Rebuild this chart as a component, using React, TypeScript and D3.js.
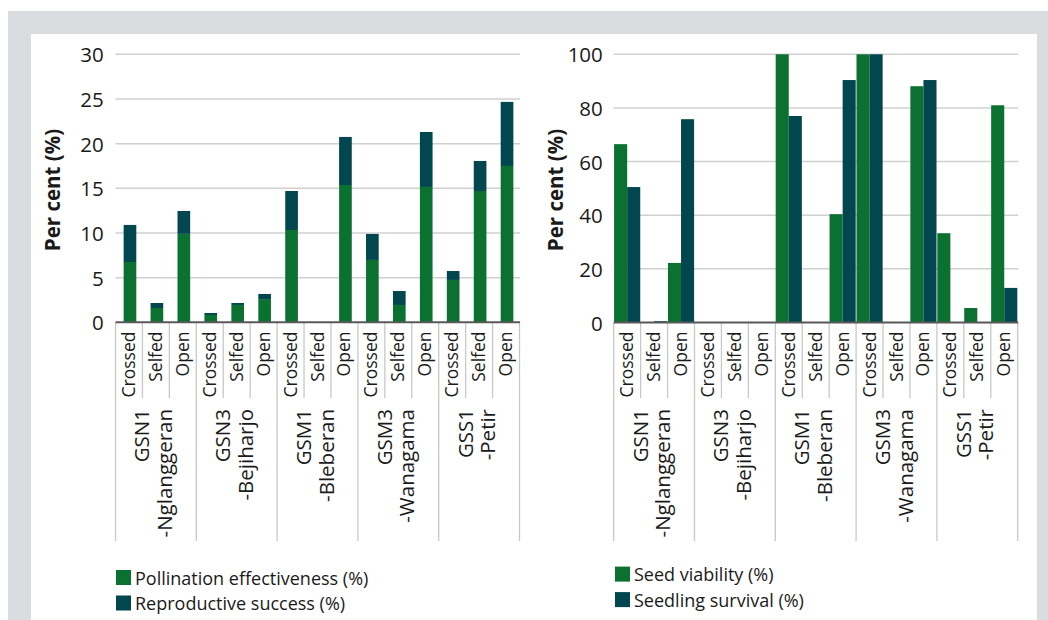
import React, { useEffect, useRef } from 'react';
import * as d3 from 'd3';

// categories
const groupCodes = ['GSN1', 'GSN3', 'GSM1', 'GSM3', 'GSS1'];
const groupSites = ['-Nglanggeran', '-Bejiharjo', '-Bleberan', '-Wanagama', '-Petir'];
const treatments = ['Crossed', 'Selfed', 'Open'];

// left chart (stacked)
const pollination = [6.75, 1.6, 9.9, 0.82, 1.94, 2.6, 10.33, 0, 15.37, 6.98, 1.94, 15.15, 4.74, 14.7, 17.5];
const reproductive = [4.15, 0.56, 2.56, 0.22, 0.22, 0.57, 4.37, 0, 5.38, 2.91, 1.56, 6.15, 1.0, 3.36, 7.17];
const leftTicks = [0, 5, 10, 15, 20, 25, 30];

// right chart (clustered)
const seedViability = [66.5, 0, 22.2, 0, 0, 0, 100, 0, 40.4, 100, 0, 88.1, 33.3, 5.4, 81];
const seedlingSurvival = [50.5, 0.5, 75.8, 0, 0, 0, 77, 0, 90.4, 100, 0, 90.4, 0, 0, 12.9];
const rightTicks = [0, 20, 40, 60, 80, 100];

const GREEN = '#0b7131';
const DARK = '#02464f';
const FONT = '"Open Sans", "Noto Sans", sans-serif';

const keys = groupCodes.flatMap((g) => treatments.map((t) => `${g}|${t}`));

const drawFrame = (svg: any, x0: number, x1: number, titleX: number, tickRight: number, yScale: any, ticks: number[]) => {
  const x = d3.scaleBand().domain(keys).range([x0, x1]).padding(0);

  // grid lines
  svg.append('g')
    .selectAll('line')
    .data(ticks.filter((t) => t > 0))
    .enter().append('line')
    .attr('x1', x0)
    .attr('x2', x1 + 0.5)
    .attr('y1', (d: number) => yScale(d))
    .attr('y2', (d: number) => yScale(d))
    .attr('stroke', '#d0d0d0')
    .attr('stroke-width', 1.5);

  // tick labels
  svg.append('g')
    .selectAll('text')
    .data(ticks)
    .enter().append('text')
    .attr('x', tickRight)
    .attr('y', (d: number) => yScale(d))
    .attr('text-anchor', 'end')
    .attr('dominant-baseline', 'central')
    .style('font-family', FONT)
    .style('font-size', '20.5px')
    .attr('fill', '#1a1a1a')
    .text((d: number) => d);

  // y title
  svg.append('text')
    .attr('transform', `translate(${titleX},190) rotate(-90)`)
    .attr('text-anchor', 'middle')
    .attr('dominant-baseline', 'central')
    .style('font-family', FONT)
    .style('font-size', '20.5px')
    .style('font-weight', 'bold')
    .attr('fill', '#1a1a1a')
    .text('Per cent (%)');

  // category separators
  const bounds = d3.range(keys.length + 1);
  svg.append('g')
    .selectAll('line')
    .data(bounds)
    .enter().append('line')
    .attr('x1', (i: number) => x0 + i * x.step())
    .attr('x2', (i: number) => x0 + i * x.step())
    .attr('y1', yScale(0))
    .attr('y2', (i: number) => (i % 3 === 0 ? 541 : 398))
    .attr('stroke', '#c8c8c8')
    .attr('stroke-width', 1.3);

  // treatment labels
  svg.append('g')
    .selectAll('text')
    .data(keys)
    .enter().append('text')
    .attr('transform', (k: string) => `translate(${(x(k) || 0) + x.step() / 2 - 1},331.5) rotate(-90)`)
    .attr('text-anchor', 'end')
    .attr('dominant-baseline', 'central')
    .style('font-family', FONT)
    .style('font-size', '17.5px')
    .attr('fill', '#1a1a1a')
    .text((k: string) => k.split('|')[1]);

  // group labels (two lines)
  groupCodes.forEach((g, gi) => {
    const cx = x0 + (gi * 3 + 1.5) * x.step();
    [[g, -14.5], [groupSites[gi], 8]].forEach(([label, off]) => {
      svg.append('text')
        .attr('transform', `translate(${cx + (off as number)},409) rotate(-90)`)
        .attr('text-anchor', 'end')
        .attr('dominant-baseline', 'central')
        .style('font-family', FONT)
        .style('font-size', '20.5px')
        .attr('fill', '#1a1a1a')
        .text(label as string);
    });
  });

  return x;
};

const drawAxisLine = (svg: any, x0: number, x1: number, y: number) => {
  svg.append('line')
    .attr('x1', x0)
    .attr('x2', x1 + 0.5)
    .attr('y1', y)
    .attr('y2', y)
    .attr('stroke', '#595959')
    .attr('stroke-width', 2);
};

const drawLegend = (svg: any, lx: number, ly: number, labels: string[]) => {
  labels.forEach((label, i) => {
    const y = ly + i * 25.5;
    svg.append('rect')
      .attr('x', lx)
      .attr('y', y)
      .attr('width', 15)
      .attr('height', 15)
      .attr('fill', i === 0 ? GREEN : DARK);
    svg.append('text')
      .attr('x', lx + 19)
      .attr('y', y + 7.5)
      .attr('dominant-baseline', 'central')
      .style('font-family', FONT)
      .style('font-size', '18px')
      .attr('fill', '#1a1a1a')
      .text(label);
  });
};

const App: React.FC = () => {
  const svgRef = useRef<SVGSVGElement | null>(null);

  useEffect(() => {
    if (!svgRef.current) return;
    const svg = d3.select(svgRef.current);
    svg.selectAll('*').remove();

    // frame
    svg.append('rect').attr('x', 8).attr('y', 11).attr('width', 1040).attr('height', 609).attr('fill', '#dadde0');
    svg.append('rect').attr('x', 31).attr('y', 34).attr('width', 1006).attr('height', 586).attr('fill', '#ffffff');

    // ---- left chart: stacked bars
    const yL = d3.scaleLinear().domain([0, 30]).range([322.3, 54.3]);
    const xL = drawFrame(svg, 115.5, 519.5, 51.7, 103.7, yL, leftTicks);

    const stackData = keys.map((k, i) => ({ key: k, poll: pollination[i], repro: reproductive[i] }));
    const series = d3.stack<any>().keys(['poll', 'repro'])(stackData);
    const bw = xL.bandwidth() * 0.47;

    svg.append('g')
      .selectAll('g')
      .data(series)
      .enter().append('g')
      .attr('fill', (_d: any, i: number) => (i === 0 ? GREEN : DARK))
      .selectAll('rect')
      .data((d: any) => d)
      .enter().append('rect')
      .attr('x', (d: any) => (xL(d.data.key) || 0) + (xL.bandwidth() - bw) / 2 + 1)
      .attr('width', bw)
      .attr('y', (d: any) => yL(d[1]))
      .attr('height', (d: any) => yL(d[0]) - yL(d[1]));

    drawAxisLine(svg, 115.5, 519.5, yL(0));
    drawLegend(svg, 116, 570, ['Pollination effectiveness (%)', 'Reproductive success (%)']);

    // ---- right chart: clustered bars
    const yR = d3.scaleLinear().domain([0, 100]).range([322.5, 54.3]);
    const xR = drawFrame(svg, 613.7, 1017.7, 554.5, 602.8, yR, rightTicks);
    const inner = d3.scaleBand().domain(['viab', 'surv']).range([0, xR.bandwidth()]).paddingInner(0).paddingOuter(0.03);
    const clusterData = keys.map((k, i) => ({ key: k, viab: seedViability[i], surv: seedlingSurvival[i] }));

    svg.append('g')
      .selectAll('g')
      .data(clusterData)
      .enter().append('g')
      .attr('transform', (d: any) => `translate(${xR(d.key) || 0},0)`)
      .selectAll('rect')
      .data((d: any) => ['viab', 'surv'].map((s) => ({ s, v: d[s] })))
      .enter().append('rect')
      .attr('x', (d: any) => inner(d.s) || 0)
      .attr('width', inner.bandwidth())
      .attr('y', (d: any) => yR(d.v))
      .attr('height', (d: any) => yR(0) - yR(d.v))
      .attr('fill', (d: any) => (d.s === 'viab' ? GREEN : DARK));

    drawAxisLine(svg, 613.7, 1017.7, yR(0));
    drawLegend(svg, 615, 566.6, ['Seed viability (%)', 'Seedling survival (%)']);
  }, []);

  return (
    <svg
      ref={svgRef}
      width={1048}
      height={620}
      style={{ position: 'absolute', left: 0, top: 0, background: '#ffffff' }}
    ></svg>
  );
};

export default App;
